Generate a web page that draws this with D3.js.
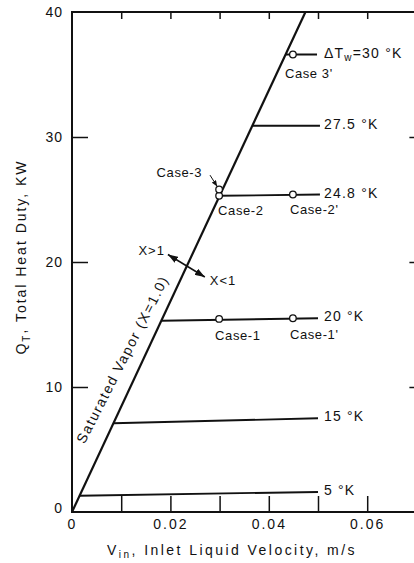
<!DOCTYPE html>
<html>
<head>
<meta charset="utf-8">
<script src="https://cdn.jsdelivr.net/npm/d3@7"></script>
<style>
  html, body { margin: 0; padding: 0; background: #fff; }
  svg { display: block; }
  text { font-family: "Liberation Sans", Arial, sans-serif; fill: #111; }
</style>
</head>
<body>
<svg id="chart" width="414" height="563"></svg>
<script>
// Saturated vapour boundary (X = 1.0): inlet liquid velocity vs total heat duty
const satV = [0, 0.04745];
const satQ = [0, 40];

// Constant wall-superheat lines, each running outwards from the saturation line
const isoLabels = ["5 °K", "15 °K", "20 °K", "24.8 °K", "27.5 °K", "=30 °K"];
const isoVStart = [0.0015, 0.0084, 0.0182, 0.0300, 0.0366, 0.0434];
const isoQStart = [1.3, 7.1, 15.3, 25.3, 30.9, 36.6];
const isoVEnd = [0.0500, 0.0500, 0.0500, 0.0504, 0.0504, 0.0498];
const isoQEnd = [1.6, 7.5, 15.5, 25.4, 30.9, 36.6];

// Operating cases
const caseNames = ["Case-1", "Case-1'", "Case-2", "Case-2'", "Case-3", "Case 3'"];
const caseV = [0.0299, 0.0449, 0.0299, 0.0449, 0.0299, 0.0449];
const caseQ = [15.45, 15.5, 25.3, 25.4, 25.8, 36.6];

// Axis ticks and labels
const vTicks = [0.01, 0.02, 0.03, 0.04, 0.05, 0.06];
const vTickLabelValues = [0, 0.02, 0.04, 0.06];
const vTickLabels = ["0", "0.02", "0.04", "0.06"];
const qTicks = [10, 20, 30];
const qTickLabelValues = [0, 10, 20, 30, 40];
const qTickLabels = ["0", "10", "20", "30", "40"];

const svg = d3.select("#chart");
const x = d3.scaleLinear().domain([0, 0.07]).range([72, 416.4]);
const y = d3.scaleLinear().domain([0, 40]).range([512, 12]);

// stretch a text's letter spacing so that it spans a given width
function fitWidth(sel, target) {
  const node = sel.node();
  const n = node.getNumberOfChars();
  const w = node.getComputedTextLength();
  sel.attr("letter-spacing", ((target - w) / n).toFixed(2));
}

// ---- frame and ticks ----
const tickStyle = g => {
  g.select(".domain").remove();
  g.selectAll(".tick line").attr("stroke", "#111").attr("stroke-width", 1.5);
};
svg.append("g").attr("transform", `translate(0,${y(0)})`)
  .call(d3.axisBottom(x).tickValues(vTicks).tickSize(-16).tickFormat(""))
  .call(tickStyle);
svg.append("g").attr("transform", `translate(0,${y(40)})`)
  .call(d3.axisTop(x).tickValues(vTicks).tickSize(-7).tickFormat(""))
  .call(tickStyle);
svg.append("g").attr("transform", `translate(${x(0)},0)`)
  .call(d3.axisLeft(y).tickValues(qTicks).tickSize(-16).tickFormat(""))
  .call(tickStyle);
svg.append("g").attr("transform", `translate(${x(0.07)},0)`)
  .call(d3.axisRight(y).tickValues(qTicks).tickSize(-7).tickFormat(""))
  .call(tickStyle);

svg.append("rect")
  .attr("x", x(0)).attr("y", y(40))
  .attr("width", x(0.07) - x(0)).attr("height", y(0) - y(40))
  .attr("fill", "none").attr("stroke", "#111").attr("stroke-width", 2);

// tick labels
const xl = svg.append("g").attr("transform", `translate(0,${y(0)})`)
  .call(d3.axisBottom(x).tickValues(vTickLabelValues).tickSize(0).tickPadding(7)
    .tickFormat((d, i) => vTickLabels[i]));
xl.select(".domain").remove();
xl.selectAll("text").attr("font-size", 14).attr("letter-spacing", 2)
  .attr("font-family", '"Liberation Sans", Arial, sans-serif').attr("fill", "#111");

const yl = svg.append("g").attr("transform", `translate(${x(0)},0)`)
  .call(d3.axisLeft(y).tickValues(qTickLabelValues).tickSize(0).tickPadding(9)
    .tickFormat((d, i) => qTickLabels[i]));
yl.select(".domain").remove();
yl.selectAll("text").attr("font-size", 14).attr("letter-spacing", 1)
  .attr("font-family", '"Liberation Sans", Arial, sans-serif').attr("fill", "#111");
yl.selectAll(".tick").filter(d => d === 0).select("text").attr("y", -4);

// axis titles
const xt = svg.append("text")
  .attr("x", 232).attr("y", 555).attr("text-anchor", "middle").attr("font-size", 14);
xt.append("tspan").text("V");
xt.append("tspan").attr("font-size", 10).attr("dy", 3).text("in");
xt.append("tspan").attr("dy", -3).text(",  Inlet  Liquid  Velocity,  m/s");
fitWidth(xt, 250);

const yt = svg.append("text")
  .attr("transform", "translate(26,257) rotate(-90)")
  .attr("text-anchor", "middle").attr("font-size", 14);
yt.append("tspan").text("Q");
yt.append("tspan").attr("font-size", 10).attr("dy", 4).text("T");
yt.append("tspan").attr("dy", -4).text(",  Total  Heat  Duty,  KW");
fitWidth(yt, 195);

// ---- saturated vapour line ----
const line = d3.line().x(d => x(d[0])).y(d => y(d[1]));
svg.append("path")
  .attr("d", line(satV.map((v, i) => [v, satQ[i]])))
  .attr("fill", "none").attr("stroke", "#111").attr("stroke-width", 2.2);

// its label, set along the line
{
  const ang = Math.atan2(y(satQ[1]) - y(satQ[0]), x(satV[1]) - x(satV[0])) * 180 / Math.PI;
  const t = svg.append("text")
    .attr("transform", `translate(${x(0.0052) - 13},${y(5.4)}) rotate(${ang + 2})`)
    .attr("font-size", 14)
    .text("Saturated Vapor (X=1.0)");
  fitWidth(t, 186);
}

// ---- wall-superheat lines ----
svg.append("g").selectAll("path")
  .data(isoLabels)
  .join("path")
  .attr("d", (d, i) => line([[isoVStart[i], isoQStart[i]], [isoVEnd[i], isoQEnd[i]]]))
  .attr("fill", "none").attr("stroke", "#111").attr("stroke-width", 1.8);

const isoText = svg.append("g").selectAll("text")
  .data(isoLabels)
  .join("text")
  .attr("x", 324)
  .attr("y", (d, i) => y(isoQEnd[i]) + 3)
  .attr("font-size", 14)
  .attr("letter-spacing", 1.2);
isoText.each(function (d, i) {
  const t = d3.select(this);
  if (i === isoLabels.length - 1) {
    t.append("tspan").text("ΔT");
    t.append("tspan").attr("font-size", 10).attr("dy", 3).text("w");
    t.append("tspan").attr("dy", -3).text(d);
  } else {
    t.text(d);
  }
});

// ---- case markers ----
const caseLabelPos = {
  "Case-1": [-4, 21, "start"],
  "Case-1'": [-3, 21, "start"],
  "Case-2": [-1, 19, "start"],
  "Case-2'": [-3, 19, "start"],
  "Case-3": [-17, -13, "end"],
  "Case 3'": [-8, 23, "start"]
};
svg.append("g").selectAll("text")
  .data(caseNames)
  .join("text")
  .attr("x", (d, i) => x(caseV[i]) + caseLabelPos[d][0])
  .attr("y", (d, i) => y(caseQ[i]) + caseLabelPos[d][1])
  .attr("text-anchor", d => caseLabelPos[d][2])
  .attr("font-size", 13)
  .attr("letter-spacing", 0.6)
  .text(d => d);

svg.append("g").selectAll("circle")
  .data(caseNames)
  .join("circle")
  .attr("cx", (d, i) => x(caseV[i]))
  .attr("cy", (d, i) => y(caseQ[i]))
  .attr("r", 3.3)
  .attr("fill", "#fff").attr("stroke", "#111").attr("stroke-width", 1.3);

// ---- arrows ----
const defs = svg.append("defs");
defs.append("marker")
  .attr("id", "headBig").attr("markerUnits", "userSpaceOnUse")
  .attr("markerWidth", 10).attr("markerHeight", 7)
  .attr("refX", 10).attr("refY", 3.5).attr("orient", "auto-start-reverse")
  .append("path").attr("d", "M0,0 L10,3.5 L0,7 Z").attr("fill", "#111");
defs.append("marker")
  .attr("id", "headSmall").attr("markerUnits", "userSpaceOnUse")
  .attr("markerWidth", 6).attr("markerHeight", 5)
  .attr("refX", 6).attr("refY", 2.5).attr("orient", "auto")
  .append("path").attr("d", "M0,0 L6,2.5 L0,5 Z").attr("fill", "#111");

// X>1 / X<1 double arrow across the saturation line
const xa0 = [0.0195, 20.6], xa1 = [0.0270, 18.8];
svg.append("path")
  .attr("d", line([xa0, xa1]))
  .attr("stroke", "#111").attr("stroke-width", 1.6).attr("fill", "none")
  .attr("marker-start", "url(#headBig)").attr("marker-end", "url(#headBig)");
svg.append("text")
  .attr("x", x(xa0[0]) - 3).attr("y", y(xa0[1]))
  .attr("text-anchor", "end").attr("font-size", 13).attr("letter-spacing", 1)
  .text("X>1");
svg.append("text")
  .attr("x", x(xa1[0]) + 5).attr("y", y(xa1[1]) + 8)
  .attr("font-size", 13).attr("letter-spacing", 1)
  .text("X<1");

// pointer from the Case-3 label to its marker
svg.append("path")
  .attr("d", line([[0.02805, 26.95], [0.02950, 26.05]]))
  .attr("stroke", "#111").attr("stroke-width", 1).attr("fill", "none")
  .attr("marker-end", "url(#headSmall)");
</script>
</body>
</html>
